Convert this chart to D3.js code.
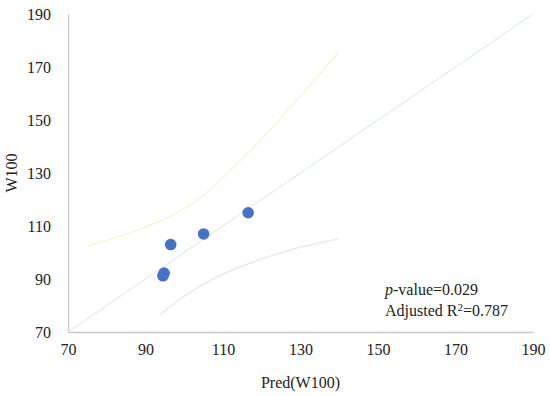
<!DOCTYPE html>
<html>
<head>
<meta charset="utf-8">
<script src="https://cdn.jsdelivr.net/npm/d3@7"></script>
<style>
  body { margin: 0; background: #fff; }
  text { font-family: "Liberation Serif", serif; fill: #222; }
</style>
</head>
<body>
<svg></svg>
<script>
// observed vs predicted
const predX = [116.5, 105, 96.5, 94.5, 94.8];
const obsY = [115, 107, 103, 91.2, 92.2];

// upper / lower band
const upperX = [75.2, 86.0, 94.5, 101.5, 107.2, 113.6, 121.4, 128.1, 139.7];
const upperY = [102.5, 107.4, 112.3, 117.9, 124.3, 133.5, 145.0, 156.0, 175.3];
const lowerX = [93.7, 99.7, 108.5, 117.0, 127.3, 139.7];
const lowerY = [76.4, 83.2, 90.8, 96.0, 100.9, 105.1];

const identity = [70, 190];
const ticks = [70, 90, 110, 130, 150, 170, 190];

const width = 550;
const height = 396;

const xScale = d3.scaleLinear().domain([70, 190]).range([68, 533]);
const yScale = d3.scaleLinear().domain([70, 190]).range([332, 14]);

const svg = d3.select('svg')
  .attr('width', width)
  .attr('height', height);

// axes
const xAxis = svg.append('g')
  .attr('transform', `translate(0,${yScale(70)})`)
  .call(d3.axisBottom(xScale).tickValues(ticks).tickSize(0).tickPadding(12));
const yAxis = svg.append('g')
  .attr('transform', `translate(${xScale(70)},0)`)
  .call(d3.axisLeft(yScale).tickValues(ticks).tickSize(0).tickPadding(17));

[xAxis, yAxis].forEach((a) => {
  a.select('.domain').attr('stroke', '#c9c9c9').attr('stroke-width', 1.3);
  a.selectAll('text')
    .style('font-family', '"Liberation Serif", serif')
    .style('font-size', '16px')
    .attr('fill', '#222');
});

const line = d3.line()
  .x((d) => xScale(d[0]))
  .y((d) => yScale(d[1]))
  .curve(d3.curveCatmullRom);

// 1:1 line
svg.append('path')
  .datum(identity.map((v) => [v, v]))
  .attr('d', line)
  .attr('fill', 'none')
  .attr('stroke', '#d9e3f0')
  .attr('stroke-width', 1);

svg.append('path')
  .datum(upperX.map((x, i) => [x, upperY[i]]))
  .attr('d', line)
  .attr('fill', 'none')
  .attr('stroke', '#f7f2d4')
  .attr('stroke-width', 1.3);

svg.append('path')
  .datum(lowerX.map((x, i) => [x, lowerY[i]]))
  .attr('d', line)
  .attr('fill', 'none')
  .attr('stroke', '#e4e8ee')
  .attr('stroke-width', 1.3);

svg.selectAll('circle')
  .data(predX)
  .enter()
  .append('circle')
    .attr('cx', (d) => xScale(d))
    .attr('cy', (d, i) => yScale(obsY[i]))
    .attr('r', 5.8)
    .attr('fill', '#4472c4');

// axis titles
svg.append('text')
  .attr('x', (xScale(70) + xScale(190)) / 2)
  .attr('y', 388)
  .attr('text-anchor', 'middle')
  .style('font-size', '16px')
  .text('Pred(W100)');

svg.append('text')
  .attr('transform', `translate(17,${(yScale(70) + yScale(190)) / 2}) rotate(-90)`)
  .attr('text-anchor', 'middle')
  .style('font-size', '16px')
  .text('W100');

// stats
const stats = svg.append('g').style('font-size', '16px');
const t1 = stats.append('text').attr('x', 385).attr('y', 295);
t1.append('tspan').style('font-style', 'italic').text('p');
t1.append('tspan').text('-value=0.029');
const t2 = stats.append('text').attr('x', 385).attr('y', 316);
t2.append('tspan').text('Adjusted R');
t2.append('tspan').attr('dy', -5).style('font-size', '11px').text('2');
t2.append('tspan').attr('dy', 5).text('=0.787');
</script>
</body>
</html>
